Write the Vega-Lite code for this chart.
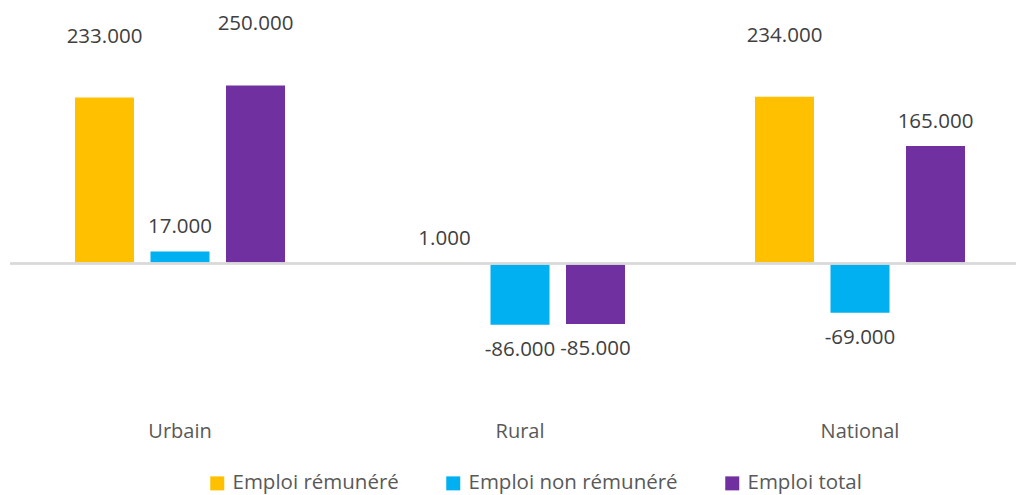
{
  "$schema": "https://vega.github.io/schema/vega-lite/v6.json",
  "width": 1006,
  "height": 406,
  "autosize": {"type": "none"},
  "padding": {"left": 10, "top": 0, "right": 0, "bottom": 89},
  "background": "white",
  "config": {
    "view": {"stroke": null},
    "font": "Open Sans",
    "locale": {"number": {"decimal": ".", "thousands": ",", "grouping": [3], "currency": ["", ""], "minus": "-"}}
  },
  "data": {
    "values": [
      {"zone": "Urbain", "serie": "Emploi rémunéré", "valeur": 233},
      {"zone": "Urbain", "serie": "Emploi non rémunéré", "valeur": 17},
      {"zone": "Urbain", "serie": "Emploi total", "valeur": 250},
      {"zone": "Rural", "serie": "Emploi rémunéré", "valeur": 1},
      {"zone": "Rural", "serie": "Emploi non rémunéré", "valeur": -86},
      {"zone": "Rural", "serie": "Emploi total", "valeur": -85},
      {"zone": "National", "serie": "Emploi rémunéré", "valeur": 234},
      {"zone": "National", "serie": "Emploi non rémunéré", "valeur": -69},
      {"zone": "National", "serie": "Emploi total", "valeur": 165}
    ]
  },
  "encoding": {
    "x": {
      "field": "zone", "type": "nominal", "sort": ["Urbain", "Rural", "National"],
      "scale": {"range": [0, 1020], "paddingInner": 0, "paddingOuter": 0},
      "axis": {"title": null, "ticks": false, "domain": false, "labelAngle": 0, "labelFontSize": 20, "labelColor": "#595959", "labelPadding": 15, "labelFont": "Open Sans"}
    },
    "xOffset": {
      "field": "serie", "type": "nominal", "sort": ["Emploi rémunéré", "Emploi non rémunéré", "Emploi total"],
      "scale": {"paddingInner": 0.2185, "paddingOuter": 0.861}
    },
    "y": {
      "field": "valeur", "type": "quantitative",
      "scale": {"domain": [-200, 370], "nice": false, "zero": false},
      "axis": null
    }
  },
  "layer": [
    {
      "mark": {"type": "bar"},
      "encoding": {
        "color": {
          "field": "serie", "type": "nominal",
          "sort": ["Emploi rémunéré", "Emploi non rémunéré", "Emploi total"],
          "scale": {"domain": ["Emploi rémunéré", "Emploi non rémunéré", "Emploi total"], "range": ["#FFC000", "#00B0F0", "#7030A0"]},
          "legend": {
            "title": null, "orient": "none", "direction": "horizontal",
            "legendX": 197, "legendY": 473,
            "symbolType": "square", "symbolSize": 196, "symbolStrokeWidth": 0,
            "labelFontSize": 20.5, "labelColor": "#595959", "labelFont": "Open Sans",
            "labelOffset": 5, "columnPadding": 44, "labelLimit": 400
          }
        },
        "y2": {"datum": 0}
      }
    },
    {
      "mark": {"type": "rule", "color": "#D9D9D9", "strokeWidth": 1.5},
      "encoding": {"y": {"datum": 0}, "x": null, "xOffset": null}
    },
    {
      "transform": [{"filter": "datum.valeur >= 0 && datum.valeur < 200"}],
      "mark": {"type": "text", "baseline": "middle", "dy": -24, "fontSize": 20.5, "color": "#404040", "font": "Open Sans"},
      "encoding": {"text": {"field": "valeur", "type": "quantitative", "format": ".3f"}}
    },
    {
      "transform": [{"filter": "datum.valeur >= 200"}],
      "mark": {"type": "text", "baseline": "middle", "dy": -61, "fontSize": 20.5, "color": "#404040", "font": "Open Sans"},
      "encoding": {"text": {"field": "valeur", "type": "quantitative", "format": ".3f"}}
    },
    {
      "transform": [{"filter": "datum.valeur < 0"}],
      "mark": {"type": "text", "baseline": "middle", "dy": 25, "fontSize": 20.5, "color": "#404040", "font": "Open Sans"},
      "encoding": {"text": {"field": "valeur", "type": "quantitative", "format": ".3f"}}
    }
  ]
}
